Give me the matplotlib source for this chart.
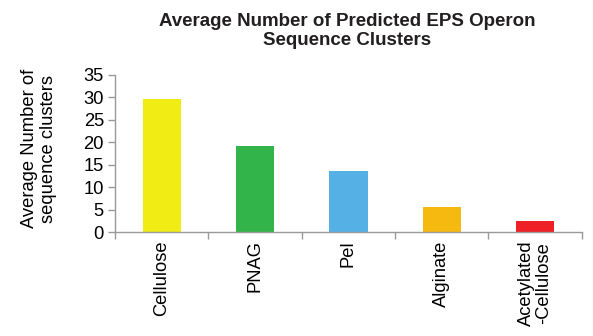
import matplotlib.pyplot as plt
import numpy as np

plt.rcParams['font.family'] = ['Liberation Sans', 'DejaVu Sans']

# EPS operon types and their average cluster counts
Categories = ["Cellulose", "PNAG", "Pel", "Alginate", "Acetylated\n-Cellulose"]
AvgClusters = [29.6, 19.2, 13.6, 5.6, 2.4]
BarColors = ["#f0ec14", "#33b44a", "#55b0e6", "#f6b90f", "#ee1f25"]

LabelSize = 13.2

fig = plt.figure(figsize=(5.93, 3.36), dpi=100)
ax = fig.add_axes([0.194, 0.3095, 0.787, 0.4675])

x = np.arange(len(Categories))
ax.bar(x, AvgClusters, width=0.41, color=BarColors)

ax.set_xlim(-0.5, len(Categories) - 0.5)
ax.set_ylim(0, 35)
ax.set_yticks(range(0, 36, 5))

# category ticks sit between the bars, labels centred under them
ax.set_xticks(np.arange(len(Categories) + 1) - 0.5)
ax.set_xticklabels([])
ax.set_xticks(x, minor=True)
ax.set_xticklabels(Categories, minor=True, rotation=90, ha="center", va="top",
                   multialignment="center", fontsize=LabelSize, linespacing=1.0)
ax.tick_params(axis="x", which="minor", length=0, pad=6)
ax.tick_params(axis="x", which="major", length=5, color="#999999", width=1)
ax.tick_params(axis="y", length=5, color="#999999", width=1, labelsize=LabelSize, pad=3)

for side in ["top", "right"]:
    ax.spines[side].set_visible(False)
for side in ["left", "bottom"]:
    ax.spines[side].set_color("#999999")
    ax.spines[side].set_linewidth(1)

ax.set_ylabel("Average Number of\nsequence clusters", fontsize=LabelSize,
              va="center", linespacing=1.15)
ax.yaxis.set_label_coords(-0.163, 0.53)

fig.text(0.585, 0.908, "Average Number of Predicted EPS Operon\nSequence Clusters",
         fontsize=13.5, fontweight="bold", ha="center", va="center",
         multialignment="center", linespacing=1.2, color="#231f20")

fig.savefig("out.png", dpi=100)
